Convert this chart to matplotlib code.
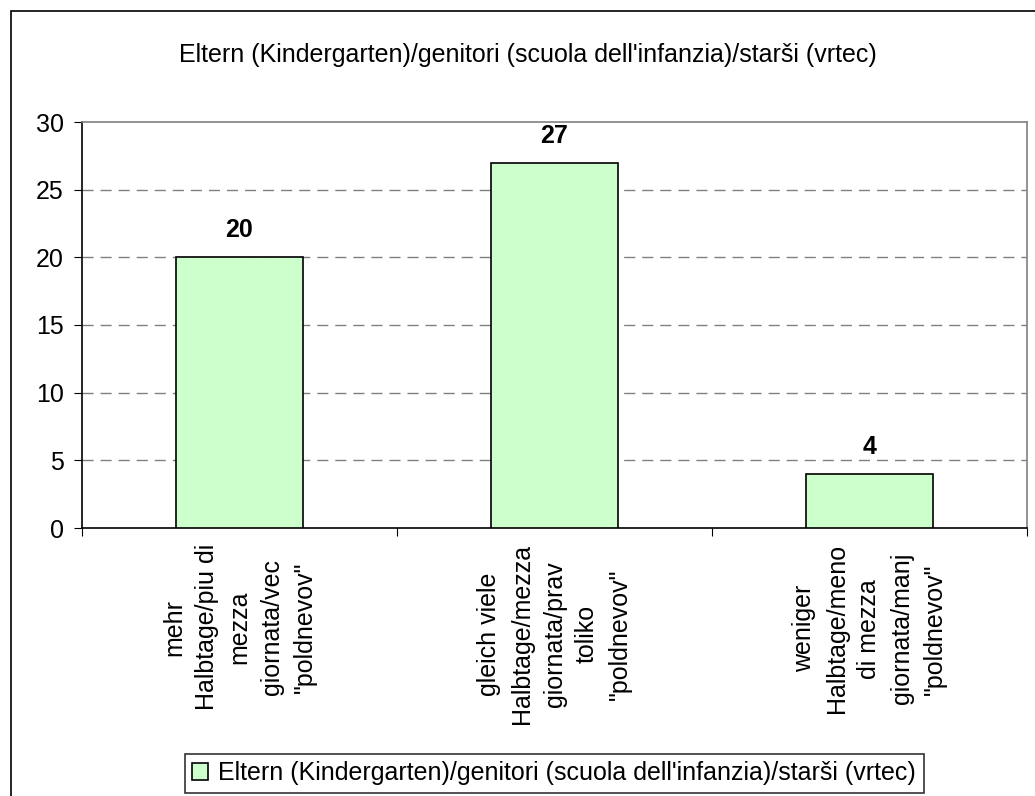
import numpy as np
import matplotlib
matplotlib.use("Agg")
import matplotlib.pyplot as plt
from matplotlib.patches import Rectangle

plt.rcParams['font.family'] = ['Liberation Sans', 'DejaVu Sans']

# data
categories = [
    'mehr\nHalbtage/piu di\nmezza\ngiornata/vec\n"poldnevov"',
    'gleich viele\nHalbtage/mezza\ngiornata/prav\ntoliko\n"poldnevov"',
    'weniger\nHalbtage/meno\ndi mezza\ngiornata/manj\n"poldnevov"',
]
values = [20, 27, 4]
series_name = "Eltern (Kindergarten)/genitori (scuola dell'infanzia)/starši (vrtec)"
yticks = [0, 5, 10, 15, 20, 25, 30]

W, H = 1035, 796
fig = plt.figure(figsize=(W / 100, H / 100), dpi=100)

# outer chart frame (cropped on right and bottom)
fig.patches.append(Rectangle((11 / W, -0.1), 1.2, 1 - 11 / H + 0.1,
                             transform=fig.transFigure, fill=False,
                             edgecolor='black', linewidth=1.2))

ax = fig.add_axes([82 / W, 1 - 528 / H, (1027 - 82) / W, (528 - 122) / H])

x = np.arange(len(values))
bars = ax.bar(x, values, width=0.405, color='#CCFFCC', edgecolor='black',
              linewidth=1.2, label=series_name, zorder=3)

for xi, v in zip(x, values):
    ax.text(xi, v + 1.1, str(v), ha='center', va='bottom',
            fontsize=18, fontweight='bold')

ax.set_xlim(-0.5, len(values) - 0.5)
ax.set_ylim(0, 30)
ax.set_yticks(yticks)
ax.tick_params(axis='y', labelsize=18, length=6, direction='out', pad=7)

# grid
for yv in yticks[1:-1]:
    ax.axhline(yv, color='#808080', linewidth=1, linestyle=(0, (8, 5)), zorder=1)

# x ticks at category boundaries
ax.set_xticks(np.arange(-0.5, len(values)), minor=False)
ax.set_xticklabels([])
ax.tick_params(axis='x', length=6, direction='out')
for xi, lab in zip(x, categories):
    ax.text(xi, -1.2, lab, rotation=90, ha='center', va='top',
            multialignment='center', fontsize=18, linespacing=1.45)

ax.spines['left'].set_color('black')
ax.spines['bottom'].set_color('black')
ax.spines['top'].set_color('#808080')
ax.spines['right'].set_color('#808080')
for s in ax.spines.values():
    s.set_linewidth(1.2)

fig.text(528 / W, 1 - 55 / H, series_name, ha='center', va='center', fontsize=18)

leg = fig.legend(handles=[bars], labels=[series_name], loc='center',
                 bbox_to_anchor=(554 / W, 1 - 773 / H), fontsize=18,
                 frameon=True, fancybox=False, handlelength=0.65,
                 handleheight=0.65, handletextpad=0.4, borderpad=0.3,
                 borderaxespad=0)
leg.get_frame().set_edgecolor('black')
leg.get_frame().set_linewidth(1.2)

fig.savefig('out.png', dpi=100)
